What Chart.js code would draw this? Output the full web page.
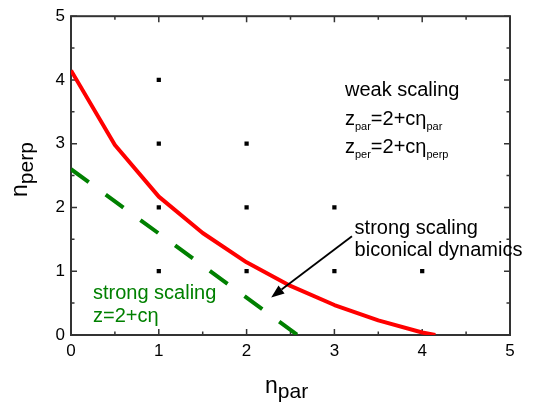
<!DOCTYPE html>
<html><head><meta charset="utf-8">
<script src="https://cdn.jsdelivr.net/npm/chart.js@4.4.0/dist/chart.umd.min.js"></script>
<style>html,body{margin:0;padding:0;background:#fff}#wrap{width:533px;height:406px}</style>
</head><body><div id="wrap"><canvas id="c"></canvas></div>
<script>
// ---- data ----
const xTickValues = [0, 1, 2, 3, 4, 5];
const yTickValues = [0, 1, 2, 3, 4, 5];
const redX = [0, 0.5, 1, 1.5, 2, 2.5, 3, 3.5, 4, 4.15];
const redY = [4.15, 2.98, 2.17, 1.6, 1.14, 0.77, 0.47, 0.23, 0.04, 0];
const greenX = [0, 2.58];
const greenY = [2.6, 0];
const gridX = [1, 1, 1, 1, 2, 2, 2, 3, 3, 4];
const gridY = [1, 2, 3, 4, 1, 2, 3, 1, 2, 1];
const arrowFrom = [3.2, 1.55];
const arrowTo = [2.28, 0.59];

const FONT = '"Liberation Sans", Arial, sans-serif';
const GREEN = '#008000';

function rich(ctx, x, y, parts, color) {
  ctx.fillStyle = color; ctx.textBaseline = 'alphabetic'; ctx.textAlign = 'left';
  let cx = x;
  for (const p of parts) {
    ctx.font = p.s + 'px ' + FONT;
    ctx.fillText(p.t, cx, y + (p.dy || 0));
    cx += ctx.measureText(p.t).width;
  }
}

const annotations = [
  {x: 3.12, y: 3.75, color: '#000', parts: [{t: 'weak scaling', s: 20}]},
  {x: 3.12, y: 3.30, color: '#000', parts: [{t: 'z', s: 20}, {t: 'par', s: 11, dy: 5}, {t: '=2+c\u03B7', s: 20}, {t: 'par', s: 11, dy: 5}]},
  {x: 3.12, y: 2.86, color: '#000', parts: [{t: 'z', s: 20}, {t: 'per', s: 11, dy: 5}, {t: '=2+c\u03B7', s: 20}, {t: 'perp', s: 11, dy: 5}]},
  {x: 3.23, y: 1.59, color: '#000', parts: [{t: 'strong scaling', s: 20}]},
  {x: 3.23, y: 1.24, color: '#000', parts: [{t: 'biconical dynamics', s: 20}]},
  {x: 0.25, y: 0.57, color: GREEN, parts: [{t: 'strong scaling', s: 20}]},
  {x: 0.25, y: 0.20, color: GREEN, parts: [{t: 'z=2+c\u03B7', s: 20}]}
];

const framePlugin = {
  id: 'frame',
  beforeDatasetsDraw(chart) {
    const ctx = chart.ctx, a = chart.chartArea;
    const xs = chart.scales.x, ys = chart.scales.y;
    ctx.save();
    ctx.strokeStyle = '#333'; ctx.lineWidth = 2;
    ctx.strokeRect(a.left, a.top, a.right - a.left, a.bottom - a.top);
    ctx.lineWidth = 1.5;
    ctx.beginPath();
    for (let v = 0; v <= 5.001; v += 0.5) {
      const len = Math.abs(v - Math.round(v)) < 1e-6 ? 6 : 3.5;
      const px = xs.getPixelForValue(v), py = ys.getPixelForValue(v);
      ctx.moveTo(px, a.bottom); ctx.lineTo(px, a.bottom - len);
      ctx.moveTo(px, a.top); ctx.lineTo(px, a.top + len);
      ctx.moveTo(a.left, py); ctx.lineTo(a.left + len, py);
      ctx.moveTo(a.right, py); ctx.lineTo(a.right - len, py);
    }
    ctx.stroke();
    ctx.restore();
  },
  afterDraw(chart) {
    const ctx = chart.ctx;
    const xs = chart.scales.x, ys = chart.scales.y;
    ctx.save();
    for (const an of annotations) {
      rich(ctx, xs.getPixelForValue(an.x), ys.getPixelForValue(an.y), an.parts, an.color);
    }
    // arrow
    const x1 = xs.getPixelForValue(arrowFrom[0]), y1 = ys.getPixelForValue(arrowFrom[1]);
    const x2 = xs.getPixelForValue(arrowTo[0]), y2 = ys.getPixelForValue(arrowTo[1]);
    const ang = Math.atan2(y2 - y1, x2 - x1);
    const hl = 13, hw = 5;
    const bx = x2 - hl * Math.cos(ang), by = y2 - hl * Math.sin(ang);
    ctx.strokeStyle = '#000'; ctx.lineWidth = 1.8;
    ctx.beginPath(); ctx.moveTo(x1, y1); ctx.lineTo(bx, by); ctx.stroke();
    ctx.fillStyle = '#000';
    ctx.beginPath();
    ctx.moveTo(x2, y2);
    ctx.lineTo(bx + hw * Math.sin(ang), by - hw * Math.cos(ang));
    ctx.lineTo(bx - hw * Math.sin(ang), by + hw * Math.cos(ang));
    ctx.closePath(); ctx.fill();
    // axis titles
    rich(ctx, 265, 393, [{t: 'n', s: 23}, {t: 'par', s: 21, dy: 5}], '#000');
    ctx.translate(27, 197);
    ctx.rotate(-Math.PI / 2);
    rich(ctx, 0, 0, [{t: 'n', s: 23}, {t: 'perp', s: 21, dy: 6}], '#000');
    ctx.restore();
  }
};

const tickFont = {family: FONT, size: 17};
new Chart(document.getElementById('c'), {
  type: 'scatter',
  data: {
    datasets: [
      {data: gridX.map((x, i) => ({x, y: gridY[i]})), pointStyle: 'rect', pointRadius: 3, backgroundColor: '#000', borderWidth: 0, showLine: false},
      {data: redX.map((x, i) => ({x, y: redY[i]})), showLine: true, borderColor: '#ff0000', borderWidth: 4, pointRadius: 0, borderJoinStyle: 'round', fill: false},
      {data: greenX.map((x, i) => ({x, y: greenY[i]})), showLine: true, borderColor: GREEN, borderWidth: 4, borderDash: [22, 21], pointRadius: 0, fill: false}
    ]
  },
  options: {
    responsive: true, maintainAspectRatio: false, animation: false,
    layout: {padding: {left: 0, top: 12, right: 23, bottom: 0}},
    plugins: {legend: {display: false}, tooltip: {enabled: false}},
    scales: {
      x: {
        type: 'linear', min: 0, max: 5,
        afterBuildTicks: s => { s.ticks = xTickValues.map(v => ({value: v})); },
        ticks: {color: '#000', font: tickFont, padding: 6, maxRotation: 0},
        grid: {display: false, drawTicks: false}, border: {display: false},
        afterFit: s => { s.height = 71; }
      },
      y: {
        type: 'linear', min: 0, max: 5,
        afterBuildTicks: s => { s.ticks = yTickValues.map(v => ({value: v})); },
        ticks: {color: '#000', font: tickFont, padding: 6},
        grid: {display: false, drawTicks: false}, border: {display: false},
        afterFit: s => { s.width = 71; }
      }
    }
  },
  plugins: [framePlugin]
});
</script>
</body></html>
